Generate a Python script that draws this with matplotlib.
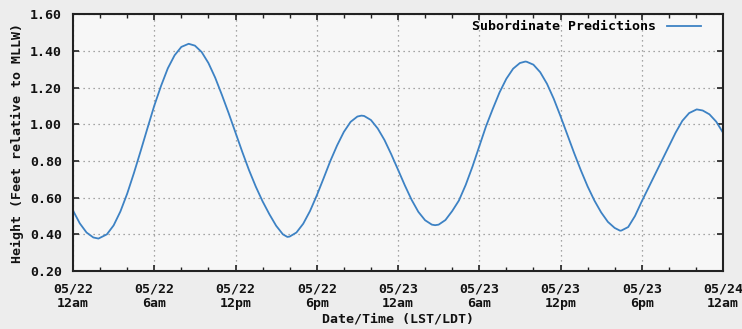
import matplotlib
matplotlib.use("Agg")
import matplotlib.pyplot as plt
from matplotlib.ticker import MultipleLocator

# -------------------------------
# data (hours since 05/22 12am, feet)
# -------------------------------
hours = [0, 0.5, 1, 1.5, 1.88, 2.5, 3, 3.5, 4, 4.5, 5, 5.5, 6, 6.5, 7, 7.5, 8, 8.54,
         9, 9.5, 10, 10.5, 11, 11.5, 12, 12.5, 13, 13.5, 14, 14.5, 15, 15.5, 15.83,
         16, 16.5, 17, 17.5, 18, 18.5, 19, 19.5, 20, 20.5, 21, 21.3,
         21.5, 22, 22.5, 23, 23.5, 24, 24.5, 25, 25.5, 26, 26.5, 26.74,
         27, 27.5, 28, 28.5, 29, 29.5, 30, 30.5, 31, 31.5, 32, 32.5, 33, 33.4,
         33.5, 34, 34.5, 35, 35.5, 36, 36.5, 37, 37.5, 38, 38.5, 39, 39.5, 40, 40.4,
         40.5, 41, 41.5, 42, 42.5, 43, 43.5, 44, 44.5, 45, 45.5, 46.06,
         46.5, 47, 47.5, 48]
height = [0.53, 0.46, 0.41, 0.383, 0.377, 0.40, 0.449, 0.525, 0.622, 0.735, 0.856, 0.98, 1.102, 1.21, 1.306, 1.377, 1.423, 1.44,
          1.43, 1.395, 1.335, 1.255, 1.16, 1.06, 0.955, 0.85, 0.75, 0.66, 0.58, 0.51, 0.447, 0.40, 0.386,
          0.388, 0.41, 0.458, 0.527, 0.612, 0.705, 0.80, 0.885, 0.959, 1.014, 1.043, 1.048,
          1.046, 1.024, 0.978, 0.915, 0.837, 0.753, 0.668, 0.589, 0.523, 0.477, 0.453, 0.45,
          0.453, 0.478, 0.527, 0.585, 0.67, 0.77, 0.88, 0.99, 1.085, 1.175, 1.249, 1.304, 1.335, 1.343,
          1.342, 1.326, 1.285, 1.222, 1.14, 1.045, 0.945, 0.845, 0.75, 0.662, 0.585, 0.52, 0.468, 0.435, 0.42,
          0.421, 0.44, 0.50, 0.58, 0.655, 0.73, 0.805, 0.88, 0.955, 1.02, 1.062, 1.082,
          1.076, 1.055, 1.015, 0.955]

xtick_pos = [0, 6, 12, 18, 24, 30, 36, 42, 48]
xtick_lab = ["05/22\n12am", "05/22\n6am", "05/22\n12pm", "05/22\n6pm",
             "05/23\n12am", "05/23\n6am", "05/23\n12pm", "05/23\n6pm", "05/24\n12am"]
ytick_pos = [0.2, 0.4, 0.6, 0.8, 1.0, 1.2, 1.4, 1.6]

font = {"family": "DejaVu Sans Mono", "weight": "bold", "size": 9.5}

fig = plt.figure(figsize=(7.42, 3.29), dpi=100, facecolor="#ededed")
ax = fig.add_axes([0.0984, 0.1763, 0.8760, 0.7797])
ax.set_facecolor("#f7f7f7")

ax.plot(hours, height, color="#3d82c4", lw=1.3, label="Subordinate Predictions")

ax.set_xlim(0, 48)
ax.set_ylim(0.2, 1.6)
ax.set_xticks(xtick_pos)
ax.set_xticklabels(xtick_lab, fontdict=font, color="#111111")
ax.xaxis.set_minor_locator(MultipleLocator(2))
ax.set_yticks(ytick_pos)
ax.set_yticklabels(["%.2f" % v for v in ytick_pos], fontdict=font, color="#111111")

ax.tick_params(which="both", direction="in", top=True, right=True, color="#222222")
ax.tick_params(which="major", length=4, width=1.2, pad=8)
ax.tick_params(which="minor", length=3, width=1.0)

ax.grid(True, which="major", linestyle=(0, (1, 3)), color="#8a8a8a", lw=0.9)
for s in ax.spines.values():
    s.set_linewidth(1.5)
    s.set_color("#222222")

ax.set_xlabel("Date/Time (LST/LDT)", fontdict=font, labelpad=2, color="#111111")
ax.set_ylabel("Height (Feet relative to MLLW)", fontdict=font, labelpad=4, color="#111111")

leg = ax.legend(loc="upper right", bbox_to_anchor=(0.975, 1.0), frameon=False, markerfirst=False,
                prop={"family": "DejaVu Sans Mono", "weight": "bold", "size": 9.5},
                handlelength=2.6, borderaxespad=0.05, handletextpad=0.8)

fig.savefig("out.png", dpi=100, facecolor=fig.get_facecolor())
